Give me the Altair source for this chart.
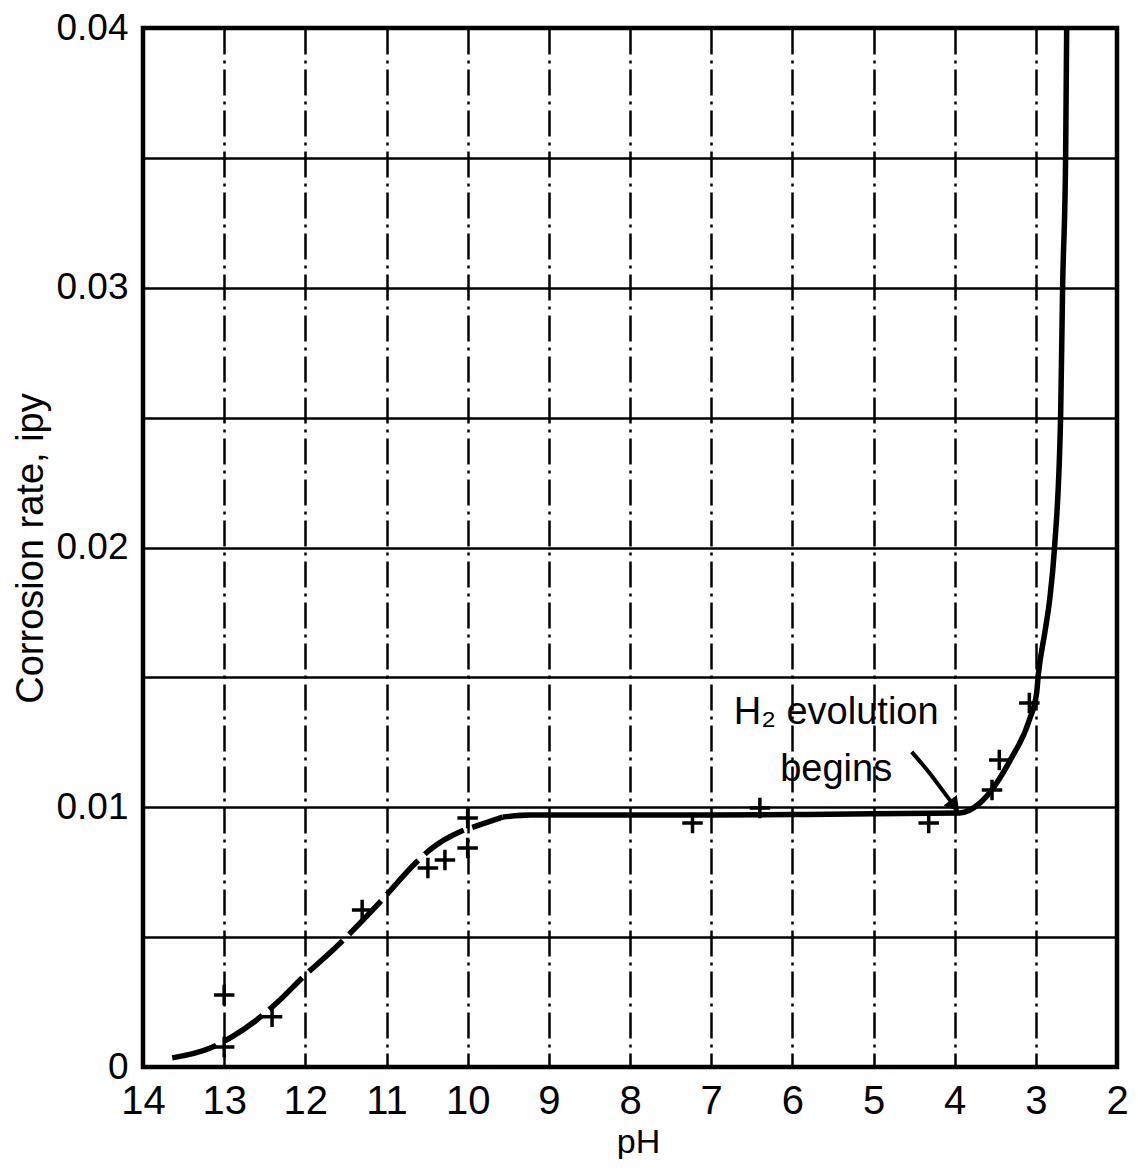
import altair as alt
import pandas as pd

# ---- data ----
curve_ph = [13.64, 13.17, 12.89, 12.60, 12.34, 12.03, 11.66, 11.08, 10.63, 10.47, 10.10, 9.89, 9.57,
            9.23, 8.0, 7.0, 6.0, 5.0, 3.94, 3.69, 3.30, 3.08, 2.99, 2.97, 2.89, 2.83, 2.77,
            2.695, 2.67, 2.633, 2.62]
curve_rate = [0.00035, 0.00073, 0.00119, 0.00181, 0.00250, 0.00346, 0.00450, 0.00635, 0.00789, 0.00835,
              0.00905, 0.00928, 0.00962, 0.00970, 0.00970, 0.00970, 0.00972, 0.00975, 0.00978, 0.01016,
              0.01190, 0.01336, 0.01440, 0.01509, 0.01671, 0.01798, 0.01998, 0.02499, 0.03003,
              0.03503, 0.04000]

marker_ph = [13.0, 13.0, 12.41, 11.30, 10.49, 10.28, 10.0, 10.0, 7.23, 6.40, 4.32, 3.54, 3.45, 3.08]
marker_rate = [0.00277, 0.00077, 0.00193, 0.00604, 0.00766, 0.00797, 0.00843, 0.00959,
               0.00939, 0.00997, 0.00939, 0.01066, 0.01182, 0.01401]

x_ticks = [14, 13, 12, 11, 10, 9, 8, 7, 6, 5, 4, 3, 2]
y_grid = [0, 0.005, 0.01, 0.015, 0.02, 0.025, 0.03, 0.035, 0.04]

note_lines = ["H\u2082 evolution", "begins"]
note_ph = [5.46, 5.46]
note_rate = [0.01363, 0.01143]

arrow_ph = [4.53, 4.31, 4.09, 3.99]
arrow_rate = [0.01213, 0.01132, 0.01040, 0.01000]
arrowhead_ph = [4.00]
arrowhead_rate = [0.01005]

# ---- tables ----
curve_df = pd.DataFrame({"ph": curve_ph, "rate": curve_rate})
marker_df = pd.DataFrame({"ph": marker_ph, "rate": marker_rate})
note_df = pd.DataFrame({"ph": note_ph, "rate": note_rate, "label": note_lines})
arrow_df = pd.DataFrame({"ph": arrow_ph, "rate": arrow_rate})
head_df = pd.DataFrame({"ph": arrowhead_ph, "rate": arrowhead_rate})

FONT = "'Liberation Sans', Arial, sans-serif"

x_enc = alt.X(
    "ph:Q",
    scale=alt.Scale(domain=[2, 14], reverse=True, nice=False, zero=False),
    axis=alt.Axis(
        values=x_ticks, title="pH", format="d",
        grid=True, gridColor="black", gridWidth=2.5, gridDash=[26, 6, 3, 6], gridOpacity=1,
        ticks=False, tickSize=0, domain=False, labelFlush=False,
        labelFont=FONT, labelFontSize=40, labelColor="black",
        labelBaseline="alphabetic", labelPadding=46,
        titleFont=FONT, titleFontSize=34, titleFontWeight="normal", titleColor="black",
        titleX=495, titleY=85, titleBaseline="alphabetic", titleAlign="center",
    ),
)
y_enc = alt.Y(
    "rate:Q",
    scale=alt.Scale(domain=[0, 0.04], nice=False, zero=True),
    axis=alt.Axis(
        values=y_grid, title="Corrosion rate, ipy",
        labelExpr="datum.value == 0 ? '0' : (round(datum.value * 1000) % 10 == 0 ? format(datum.value, '.2f') : '')",
        grid=True, gridColor="black", gridWidth=2.5, gridOpacity=1,
        ticks=False, tickSize=0, domain=False, labelFlush=False,
        labelFont=FONT, labelFontSize=37, labelColor="black",
        labelBaseline="middle", labelPadding=15,
        titleFont=FONT, titleFontSize=38, titleFontWeight="normal", titleColor="black",
        titleAngle=270, titleX=-112, titleY=520, titleBaseline="middle", titleAlign="center",
    ),
)

curve_dashed = alt.Chart(curve_df).mark_line(
    color="black", strokeWidth=5.5, interpolate="monotone", strokeDash=[46, 9]
).encode(x=x_enc, y=y_enc, order=alt.Order("ph:Q", sort="descending")).transform_filter("datum.ph >= 9.57")

curve_solid = alt.Chart(curve_df).mark_line(
    color="black", strokeWidth=5.5, interpolate="monotone"
).encode(x=x_enc, y=y_enc, order=alt.Order("ph:Q", sort="descending")).transform_filter("datum.ph <= 9.57")

markers = alt.Chart(marker_df).mark_point(
    shape="M-1,0L1,0M0,-1L0,1", size=420, filled=False, stroke="black", strokeWidth=3.5, opacity=1
).encode(x=x_enc, y=y_enc)

notes = alt.Chart(note_df).mark_text(
    font=FONT, fontSize=38, color="black", align="center", baseline="middle"
).encode(x=x_enc, y=y_enc, text="label:N")

arrow = alt.Chart(arrow_df).mark_line(
    color="black", strokeWidth=4, interpolate="monotone"
).encode(x=x_enc, y=y_enc, order=alt.Order("ph:Q", sort="descending"))

head = alt.Chart(head_df).mark_point(
    shape="triangle-down", size=280, filled=True, color="black", angle=322, opacity=1
).encode(x=x_enc, y=y_enc)

chart = alt.layer(curve_dashed, curve_solid, markers, notes, arrow, head).properties(
    width=974,
    height=1039,
    autosize=alt.AutoSizeParams(type="none"),
    padding={"left": 135, "top": 20, "right": 12, "bottom": 92},
    background="white",
).configure_view(stroke="black", strokeWidth=4.5)

chart.save("out.html", embed_options={"renderer": "svg", "actions": False})
